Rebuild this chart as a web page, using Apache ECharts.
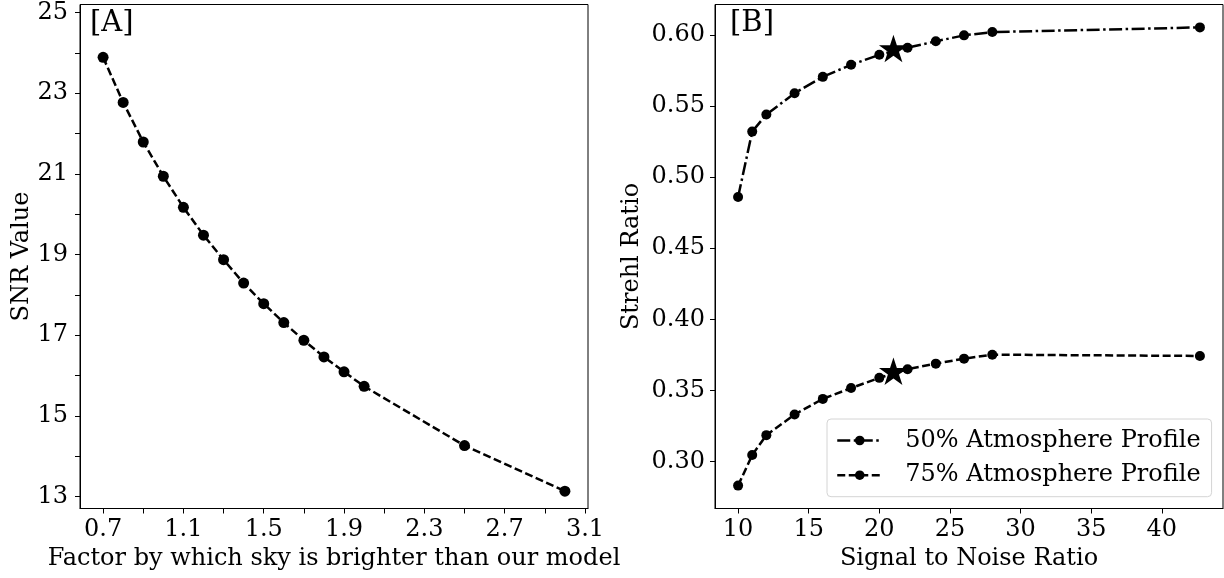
<!DOCTYPE html>
<html>
<head>
<meta charset="utf-8">
<script src="https://cdn.jsdelivr.net/npm/echarts@6/dist/echarts.min.js"></script>
<style>
  html, body { margin: 0; padding: 0; background: #fff; }
  #chart { width: 1224px; height: 578px; }
</style>
</head>
<body>
<div id="chart"></div>
<script>
// Panel A: SNR reached for a given sky-brightness factor
const skyFactor = [0.7, 0.8, 0.9, 1.0, 1.1, 1.2, 1.3, 1.4, 1.5, 1.6, 1.7, 1.8, 1.9, 2.0, 2.5, 3.0];
const snrValue  = [23.89, 22.77, 21.79, 20.94, 20.17, 19.48, 18.87, 18.29, 17.78, 17.31, 16.87, 16.46, 16.09, 15.73, 14.26, 13.13];

// Panel B: Strehl ratio against SNR for two atmosphere profiles
const snr      = [10, 11, 12, 14, 16, 18, 20, 22, 24, 26, 28, 42.7];
const strehl50 = [0.486, 0.532, 0.544, 0.559, 0.5705, 0.579, 0.586, 0.591, 0.5955, 0.5997, 0.602, 0.6053];
const strehl75 = [0.283, 0.3045, 0.3185, 0.333, 0.344, 0.3516, 0.3588, 0.3649, 0.3688, 0.3723, 0.3751, 0.3742];

// Operating point marked with a star on both curves
const markSnr = 21;
const mark50 = 0.5895;
const mark75 = 0.3625;

// Tick positions and labelled ticks
const factorTicks    = [0.7, 0.9, 1.1, 1.3, 1.5, 1.7, 1.9, 2.1, 2.3, 2.5, 2.7, 2.9, 3.1];
const factorLabels   = [0.7, 1.1, 1.5, 1.9, 2.3, 2.7, 3.1];
const snrValueTicks  = [13, 14, 15, 16, 17, 18, 19, 20, 21, 22, 23, 24, 25];
const snrValueLabels = [13, 15, 17, 19, 21, 23, 25];
const snrTicks       = [10, 15, 20, 25, 30, 35, 40];
const strehlTicks    = [0.30, 0.35, 0.40, 0.45, 0.50, 0.55, 0.60];

const FONT = '"DejaVu Serif", serif';
const FS = 24;
const INK = '#000';

const zip = (xs, ys) => xs.map((x, i) => [x, ys[i]]);

// Five-pointed star outline (inner/outer radius ratio as in the classic star marker)
function starPath() {
  const pts = [];
  for (let i = 0; i < 10; i++) {
    const r = i % 2 === 0 ? 1 : 0.381966;
    const a = -Math.PI / 2 + i * Math.PI / 5;
    pts.push((r * Math.cos(a)).toFixed(4) + ' ' + (r * Math.sin(a)).toFixed(4));
  }
  return 'path://M' + pts.join(' L') + ' Z';
}
const STAR = starPath();

function valueAxis(opts) {
  return Object.assign({
    type: 'value',
    nameLocation: 'middle',
    nameTextStyle: { fontFamily: FONT, fontSize: FS, color: INK },
    axisLine: { show: true, onZero: false, lineStyle: { color: INK, width: 1 } },
    splitLine: { show: false },
    minorTick: { show: false }
  }, opts);
}
const tick = values => ({ show: true, inside: false, length: 5, lineStyle: { color: INK, width: 1 }, customValues: values });
const label = (values, margin, fmt) => ({ fontFamily: FONT, fontSize: FS, color: INK, margin: margin, customValues: values, formatter: fmt });

const LW = 2.5;
const DASHED = [8, 3.5];
const DASHDOT = [13, 3.5, 2.5, 3.5];

const option = {
  animation: false,
  backgroundColor: '#fff',
  grid: [
    { left: 80, top: 4.5, width: 508, height: 504, show: true, borderColor: INK, borderWidth: 1, containLabel: false },
    { left: 715, top: 4.5, width: 508, height: 504, show: true, borderColor: INK, borderWidth: 1, containLabel: false }
  ],
  xAxis: [
    valueAxis({
      gridIndex: 0, min: 0.585, max: 3.115,
      name: 'Factor by which sky is brighter than our model', nameGap: 36,
      axisTick: tick(factorTicks),
      axisLabel: label(factorLabels, 9, v => Number(v).toFixed(1))
    }),
    valueAxis({
      gridIndex: 1, min: 8.365, max: 44.335,
      name: 'Signal to Noise Ratio', nameGap: 36,
      axisTick: tick(snrTicks),
      axisLabel: label(snrTicks, 9, v => String(Math.round(v)))
    })
  ],
  yAxis: [
    valueAxis({
      gridIndex: 0, min: 12.7, max: 25.2,
      name: 'SNR Value', nameGap: 46,
      axisTick: tick(snrValueTicks),
      axisLabel: label(snrValueLabels, 12, v => String(Math.round(v)))
    }),
    valueAxis({
      gridIndex: 1, min: 0.2669, max: 0.6214,
      name: 'Strehl Ratio', nameGap: 71,
      axisTick: tick(strehlTicks),
      axisLabel: label(strehlTicks, 10, v => Number(v).toFixed(2))
    })
  ],
  legend: {
    data: ['50% Atmosphere Profile', '75% Atmosphere Profile'],
    orient: 'vertical',
    left: 827, top: 419,
    padding: [9.5, 11, 9.5, 9],
    itemWidth: 45, itemHeight: 12, itemGap: 10.7,
    lineStyle: { width: LW },
    backgroundColor: 'rgba(255,255,255,0.8)',
    borderColor: '#d4d4d4', borderWidth: 1, borderRadius: 4,
    textStyle: { fontFamily: FONT, fontSize: FS, color: INK, lineHeight: 24, padding: [0, 0, 0, 18] }
  },
  graphic: [
    { type: 'text', left: 90, top: 9, style: { text: '[A]', font: '29px ' + FONT, fill: INK } },
    { type: 'text', left: 730, top: 9, style: { text: '[B]', font: '29px ' + FONT, fill: INK } }
  ],
  series: [
    {
      name: 'SNR', type: 'line', xAxisIndex: 0, yAxisIndex: 0,
      data: zip(skyFactor, snrValue),
      symbol: 'circle', symbolSize: 11, showSymbol: true,
      lineStyle: { color: INK, width: LW, type: DASHED },
      itemStyle: { color: INK }
    },
    {
      name: '50% Atmosphere Profile', type: 'line', xAxisIndex: 1, yAxisIndex: 1,
      data: zip(snr, strehl50),
      symbol: 'circle', symbolSize: 10,
      lineStyle: { color: INK, width: LW, type: DASHDOT },
      itemStyle: { color: INK }
    },
    {
      name: '75% Atmosphere Profile', type: 'line', xAxisIndex: 1, yAxisIndex: 1,
      data: zip(snr, strehl75),
      symbol: 'circle', symbolSize: 10,
      lineStyle: { color: INK, width: LW, type: DASHED },
      itemStyle: { color: INK }
    },
    {
      name: 'operating point', type: 'scatter', xAxisIndex: 1, yAxisIndex: 1,
      data: [[markSnr, mark50], [markSnr, mark75]],
      symbol: STAR, symbolSize: [29, 27.6], symbolOffset: [0, -1.4],
      itemStyle: { color: INK, opacity: 1 },
      z: 5
    }
  ]
};

const chart = echarts.init(document.getElementById('chart'), null, { renderer: 'canvas' });
chart.setOption(option);
</script>
</body>
</html>
